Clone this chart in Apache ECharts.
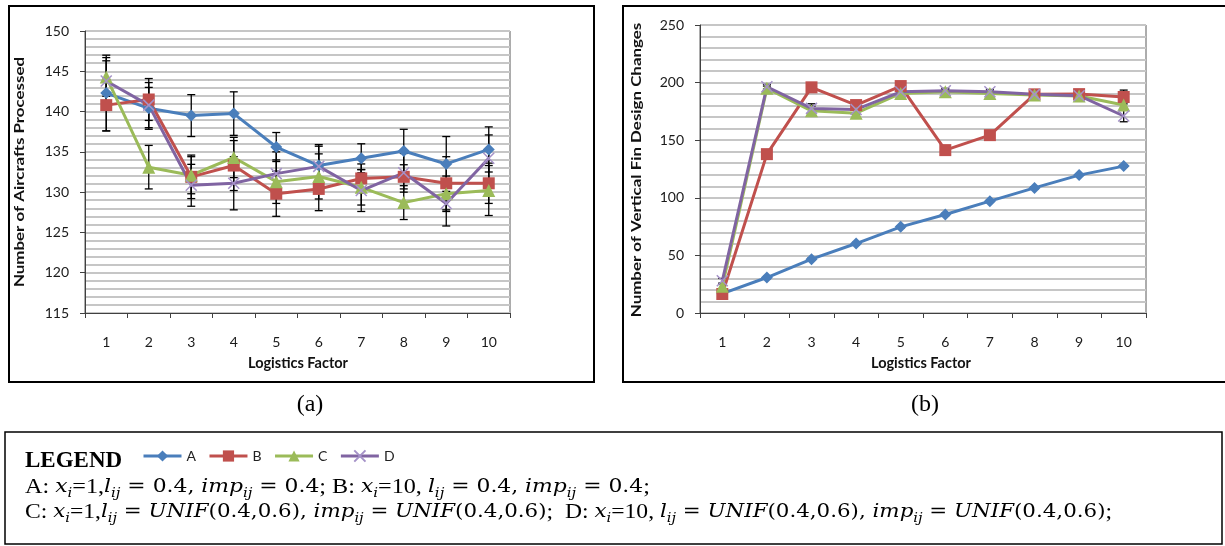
<!DOCTYPE html>
<html>
<head>
<meta charset="utf-8">
<script src="https://cdn.jsdelivr.net/npm/echarts@6/dist/echarts.min.js"></script>
<style>
html,body{margin:0;padding:0;background:#fff;}
#c{width:1225px;height:546px;}
</style>
</head>
<body>
<div id="c"></div>
<script>
// ---- data ----
const categories = ['1','2','3','4','5','6','7','8','9','10'];
const seriesNames = ['A','B','C','D'];
// (a) Number of Aircrafts Processed
const aA = [142.3, 140.4, 139.5, 139.75, 135.6, 133.3, 134.2, 135.1, 133.5, 135.3];
const aB = [140.8, 141.5, 131.9, 133.3, 129.8, 130.4, 131.7, 131.9, 131.1, 131.1];
const aC = [144.3, 133.1, 132.1, 134.3, 131.3, 131.95, 130.6, 128.7, 129.8, 130.2];
const aD = [143.8, 140.8, 130.85, 131.1, 132.3, 133.2, 130.2, 132.4, 128.6, 134.2];
const aErrA = [4.7, 2.6, 2.6, 2.7, 1.8, 2.6, 1.8, 2.7, 3.4, 2.8];
const aErrB = [3.2, 2.6, 2.7, 3.1, 2.8, 2.7, 1.8, 1.5, 3.3, 2.5];
const aErrC = [2.4, 2.7, 2.3, 2.5, 2.7, 2.8, 2.2, 2.1, 2.2, 3.1];
const aErrD = [2.5, 2.8, 2.6, 3.3, 2.7, 2.5, 2.6, 2.4, 2.8, 2.9];
// (b) Number of Vertical Fin Design Changes
const bA = [16.8, 30.8, 46.7, 60.3, 74.8, 85.5, 97.1, 108.6, 119.7, 127.5];
const bB = [16.5, 137.9, 195.9, 180.5, 197, 141.4, 154.4, 189.8, 190, 187.5];
const bC = [23.2, 195, 175.5, 173.5, 190.6, 192, 190.6, 189.2, 188.3, 180.5];
const bD = [28, 196.4, 177.6, 176.7, 192, 193, 192, 189.8, 188.6, 171];
const bErrA = [1, 1, 1, 1, 1, 1, 1, 1, 1, 1];
const bErrB = [1.5, 2, 2.5, 2, 2, 2, 2, 2, 2, 6];
const bErrC = [2, 2, 4, 4, 2, 2, 2, 2, 2, 3];
const bErrD = [2, 2, 4, 4, 2, 2, 2, 2, 2, 5];
const aYTicks = {min: 115, max: 150, interval: 5};
const bYTicks = {min: 0, max: 250, interval: 50};

// ---- styles ----
const colors = ['#4a7ebb', '#c0504d', '#9bbb59', '#8064a2'];
const crossPath = 'path://M0,0L10,10M0,10L10,0';
const symbols = ['diamond', 'rect', 'triangle', crossPath];
const symSizes = [12, 12, 13, 11];
const labelFont = 'Lato';

function lineSeries(name, i, data, gi) {
  const s = {
    name: name, type: 'line', data: data,
    xAxisIndex: gi, yAxisIndex: gi,
    symbol: symbols[i], symbolSize: symSizes[i],
    lineStyle: {color: colors[i], width: 3},
    itemStyle: {color: colors[i]},
    z: 3, animation: false
  };
  if (i === 3) {
    s.itemStyle = {color: colors[i], borderColor: '#a592c8', borderWidth: 1.5};
  }
  return s;
}
function errSeries(vals, errs, gi) {
  return {
    type: 'custom', xAxisIndex: gi, yAxisIndex: gi, z: 2, animation: false,
    silent: true,
    encode: {x: 0, y: [1, 2]},
    data: vals.map((v, k) => [k, v - errs[k], v + errs[k]]),
    renderItem: function (params, api) {
      const x = api.value(0);
      const pl = api.coord([x, api.value(1)]);
      const ph = api.coord([x, api.value(2)]);
      const w = 4;
      const st = {stroke: '#000', lineWidth: 1.3};
      return {type: 'group', children: [
        {type: 'line', shape: {x1: ph[0], y1: ph[1], x2: pl[0], y2: pl[1]}, style: st},
        {type: 'line', shape: {x1: ph[0] - w, y1: ph[1], x2: ph[0] + w, y2: ph[1]}, style: st},
        {type: 'line', shape: {x1: pl[0] - w, y1: pl[1], x2: pl[0] + w, y2: pl[1]}, style: st}
      ]};
    }
  };
}
function xAx(gi) {
  return {
    type: 'category', gridIndex: gi, data: categories, boundaryGap: true,
    axisLine: {lineStyle: {color: '#404040', width: 1}},
    axisTick: {show: true, length: 5, lineStyle: {color: '#404040'}},
    axisLabel: {margin: 22, fontFamily: labelFont, fontSize: 14, color: '#1a1a1a'},
    splitLine: {show: false}
  };
}
function yAx(gi, t) {
  return {
    type: 'value', gridIndex: gi, min: t.min, max: t.max, interval: t.interval,
    axisLine: {show: true, lineStyle: {color: '#404040', width: 1}},
    axisTick: {show: true, length: 5, lineStyle: {color: '#404040'}},
    axisLabel: {margin: 16, fontFamily: labelFont, fontSize: 14, color: '#1a1a1a'},
    splitLine: {show: true, lineStyle: {color: '#c6c6c6', width: 2}},
    minorTick: {show: false, splitNumber: 5},
    minorSplitLine: {show: true, lineStyle: {color: '#c6c6c6', width: 2}}
  };
}

const series = [];
const aVals = [aA, aB, aC, aD], aErrs = [aErrA, aErrB, aErrC, aErrD];
const bVals = [bA, bB, bC, bD], bErrs = [bErrA, bErrB, bErrC, bErrD];
for (let i = 0; i < 4; i++) series.push(errSeries(aVals[i], aErrs[i], 0));
for (let i = 0; i < 4; i++) series.push(errSeries(bVals[i], bErrs[i], 1));
for (let i = 0; i < 4; i++) series.push(lineSeries(seriesNames[i], i, aVals[i], 0));
for (let i = 0; i < 4; i++) series.push(lineSeries(seriesNames[i], i, bVals[i], 1));

const line1 = '{n|A: }{i|x}{s|i}{n|=1,}{i|l}{s|ij}{m| = 0.4, }{i|imp}{s|ij}{m| = 0.4}{n|; B: }{i|x}{s|i}{n|=10, }{i|l}{s|ij}{m| = 0.4, }{i|imp}{s|ij}{m| = 0.4}{n|;}';
const line2 = '{n|C: }{i|x}{s|i}{n|=1,}{i|l}{s|ij}{m| = }{i|UNIF}{m|(0.4,0.6), }{i|imp}{s|ij}{m| = }{i|UNIF}{m|(0.4,0.6)}{n|;  D: }{i|x}{s|i}{n|=10, }{i|l}{s|ij}{m| = }{i|UNIF}{m|(0.4,0.6), }{i|imp}{s|ij}{m| = }{i|UNIF}{m|(0.4,0.6)}{n|;}';
const rich = {
  n: {fontFamily: 'Liberation Serif', fontSize: 21, lineHeight: 26, fill: '#000'},
  m: {fontFamily: 'DejaVu Serif', fontSize: 19, lineHeight: 26, fill: '#000'},
  i: {fontFamily: 'DejaVu Serif', fontStyle: 'italic', fontSize: 19, lineHeight: 26, fill: '#000'},
  s: {fontFamily: 'DejaVu Serif', fontStyle: 'italic', fontSize: 13, lineHeight: 13, verticalAlign: 'bottom', fill: '#000'}
};

const chart = echarts.init(document.getElementById('c'), null, {renderer: 'canvas'});
chart.setOption({
  backgroundColor: '#fff',
  animation: false,
  grid: [
    {left: 85, top: 31, width: 425, height: 282, show: true, borderColor: '#5a5a5a', borderWidth: 1, backgroundColor: 'transparent'},
    {left: 700, top: 25, width: 446, height: 288, show: true, borderColor: '#5a5a5a', borderWidth: 1, backgroundColor: 'transparent'}
  ],
  xAxis: [xAx(0), xAx(1)],
  yAxis: [yAx(0, aYTicks), yAx(1, bYTicks)],
  legend: {
    data: seriesNames, left: 137, top: 444, itemWidth: 38, itemHeight: 14, itemGap: 12,
    selectedMode: false,
    lineStyle: {width: 3},
    textStyle: {fontFamily: labelFont, fontSize: 14, color: '#222'}
  },
  tooltip: {show: false},
  series: series,
  graphic: [
    {type: 'rect', shape: {x: 9, y: 6, width: 585, height: 376}, style: {fill: 'none', stroke: '#000', lineWidth: 2}, z: 0, silent: true},
    {type: 'rect', shape: {x: 623, y: 6, width: 620, height: 376}, style: {fill: 'none', stroke: '#000', lineWidth: 2}, z: 0, silent: true},
    {type: 'rect', shape: {x: 5, y: 432, width: 1217, height: 112}, style: {fill: 'none', stroke: '#000', lineWidth: 1.5}, z: 0, silent: true},
    {type: 'text', x: 20, y: 172, rotation: Math.PI / 2, scaleX: 1.3, style: {text: 'Number of Aircrafts Processed', font: 'bold 13px Lato', fill: '#111', align: 'center', verticalAlign: 'middle'}},
    {type: 'text', x: 637, y: 170, rotation: Math.PI / 2, scaleX: 1.3, style: {text: 'Number of Vertical Fin Design Changes', font: 'bold 13px Lato', fill: '#111', align: 'center', verticalAlign: 'middle'}},
    {type: 'text', x: 298, y: 363, style: {text: 'Logistics Factor', font: 'bold 14.5px Lato', fill: '#111', align: 'center', verticalAlign: 'middle'}},
    {type: 'text', x: 921, y: 363, style: {text: 'Logistics Factor', font: 'bold 14.5px Lato', fill: '#111', align: 'center', verticalAlign: 'middle'}},
    {type: 'text', x: 310, y: 405, style: {text: '(a)', font: '24px "Liberation Serif"', fill: '#000', align: 'center', verticalAlign: 'middle'}},
    {type: 'text', x: 925, y: 405, style: {text: '(b)', font: '24px "Liberation Serif"', fill: '#000', align: 'center', verticalAlign: 'middle'}},
    {type: 'text', x: 25, y: 461, style: {text: 'LEGEND', font: 'bold 23px "Liberation Serif"', fill: '#000', align: 'left', verticalAlign: 'middle'}},
    {type: 'text', x: 25, y: 474, scaleX: 1.15, style: {text: line1, rich: rich, align: 'left', verticalAlign: 'top'}},
    {type: 'text', x: 25, y: 499, scaleX: 1.125, style: {text: line2, rich: rich, align: 'left', verticalAlign: 'top'}}
  ]
});
</script>
</body>
</html>
